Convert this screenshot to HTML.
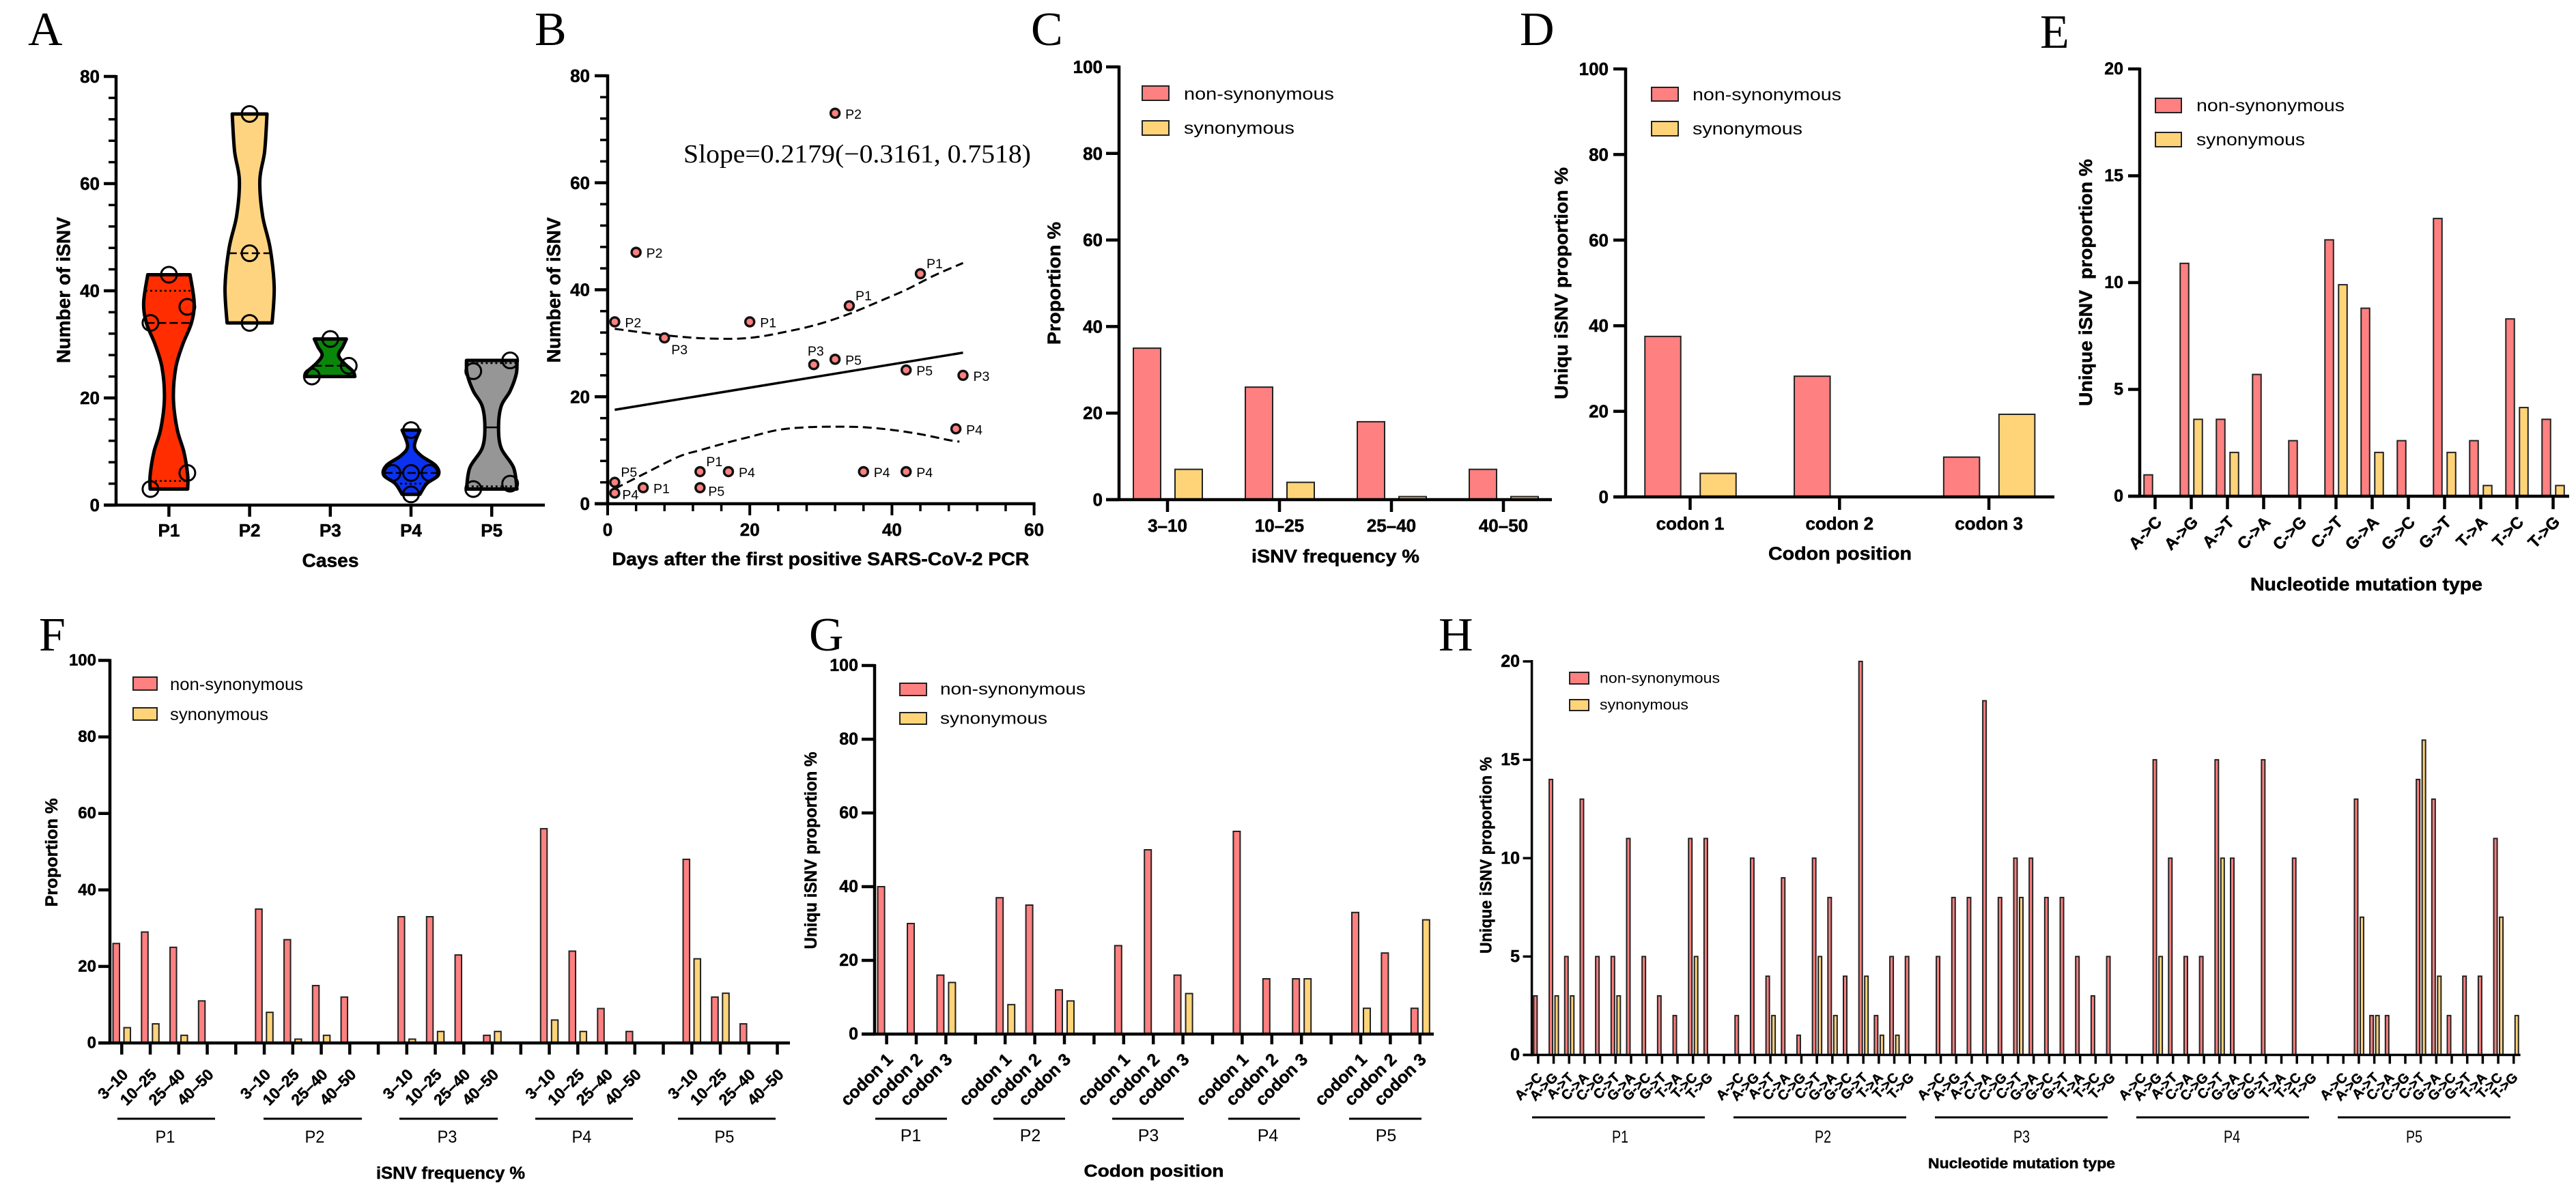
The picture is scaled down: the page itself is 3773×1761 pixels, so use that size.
<!DOCTYPE html>
<html lang="en">
<head>
<meta charset="utf-8">
<title>iSNV analysis panels</title>
<style>
html,body{margin:0;padding:0;background:#fff;}
svg{display:block;}
text{font-family:"Liberation Sans",Arial,sans-serif;fill:#000;}
text[font-weight=bold],.title{stroke:#000;stroke-width:.5px;}
.letter{font-family:"Liberation Serif",serif;font-size:70px;}
.title{font-weight:bold;dominant-baseline:central;text-anchor:middle;}
.leg{dominant-baseline:central;}
.grp{dominant-baseline:central;text-anchor:middle;font-size:25px;}
.gl{stroke:#000;stroke-width:3;}
.non{fill:#ff8080;stroke:#222;stroke-width:2;}
.syn{fill:#ffd479;stroke:#222;stroke-width:2;}
</style>
</head>
<body>
<svg id="fig" xmlns="http://www.w3.org/2000/svg" width="3773" height="1761" viewBox="0 0 3773 1761">
<rect x="0" y="0" width="3773" height="1761" fill="#fff"/>

<g id="panel-a">
  <text class="letter" x="41" y="66">A</text>
  <text class="title" font-size="28" x="93" y="425" transform="rotate(-90 93 425)" textLength="214" lengthAdjust="spacingAndGlyphs">Number of iSNV</text>
  <text class="title" font-size="28" x="484" y="821" textLength="83" lengthAdjust="spacingAndGlyphs">Cases</text>
</g>

<g id="panel-b">
  <text class="letter" x="783" y="66">B</text>
  <text class="title" font-size="28" x="811" y="425" transform="rotate(-90 811 425)" textLength="213" lengthAdjust="spacingAndGlyphs">Number of iSNV</text>
  <text class="title" font-size="27" x="1202" y="819" textLength="611" lengthAdjust="spacingAndGlyphs">Days after the first positive SARS-CoV-2 PCR</text>
  <text x="1001" y="238" font-size="38" textLength="509" lengthAdjust="spacingAndGlyphs" style="font-family:'Liberation Serif',serif">Slope=0.2179(−0.3161, 0.7518)</text>
</g>

<g id="panel-c">
  <text class="letter" x="1510" y="66">C</text>
  <text class="title" font-size="27" x="1544" y="415" transform="rotate(-90 1544 415)" textLength="180" lengthAdjust="spacingAndGlyphs">Proportion %</text>
  <text class="title" font-size="27" x="1956" y="815" textLength="246" lengthAdjust="spacingAndGlyphs">iSNV frequency %</text>
  <g>
    <rect class="non" x="1673" y="126" width="39" height="21"/>
    <rect class="syn" x="1673" y="177" width="39" height="21"/>
    <text class="leg" font-size="25" x="1734" y="138" textLength="220" lengthAdjust="spacingAndGlyphs">non-synonymous</text>
    <text class="leg" font-size="25" x="1734" y="188" textLength="162" lengthAdjust="spacingAndGlyphs">synonymous</text>
  </g>
</g>

<g id="panel-d">
  <text class="letter" x="2226" y="66">D</text>
  <text class="title" font-size="27" x="2287" y="415" transform="rotate(-90 2287 415)" textLength="340" lengthAdjust="spacingAndGlyphs">Uniqu iSNV proportion %</text>
  <text class="title" font-size="27" x="2695" y="811" textLength="210" lengthAdjust="spacingAndGlyphs">Codon position</text>
  <g>
    <rect class="non" x="2419" y="128" width="39" height="20"/>
    <rect class="syn" x="2419" y="178" width="39" height="21"/>
    <text class="leg" font-size="25" x="2479" y="139" textLength="218" lengthAdjust="spacingAndGlyphs">non-synonymous</text>
    <text class="leg" font-size="25" x="2479" y="189" textLength="161" lengthAdjust="spacingAndGlyphs">synonymous</text>
  </g>
</g>

<g id="panel-e">
  <text class="letter" x="2988" y="70">E</text>
  <text class="title" font-size="27" x="3055" y="414" transform="rotate(-90 3055 414)" textLength="362" lengthAdjust="spacingAndGlyphs" xml:space="preserve">Unique iSNV  proportion %</text>
  <text class="title" font-size="27" x="3466" y="856" textLength="340" lengthAdjust="spacingAndGlyphs">Nucleotide mutation type</text>
  <g>
    <rect class="non" x="3157" y="144" width="38" height="21"/>
    <rect class="syn" x="3157" y="194" width="38" height="21"/>
    <text class="leg" font-size="25" x="3217" y="155" textLength="217" lengthAdjust="spacingAndGlyphs">non-synonymous</text>
    <text class="leg" font-size="25" x="3217" y="205" textLength="159" lengthAdjust="spacingAndGlyphs">synonymous</text>
  </g>
</g>

<g id="panel-f">
  <text class="letter" x="57" y="953">F</text>
  <text class="title" font-size="25" x="76" y="1249" transform="rotate(-90 76 1249)" textLength="159" lengthAdjust="spacingAndGlyphs">Proportion %</text>
  <text class="title" font-size="25" x="660" y="1719" textLength="218" lengthAdjust="spacingAndGlyphs">iSNV frequency %</text>
  <g>
    <rect class="non" x="195" y="992" width="35" height="19"/>
    <rect class="syn" x="195" y="1037" width="35" height="18"/>
    <text class="leg" font-size="25" x="249" y="1003" textLength="195" lengthAdjust="spacingAndGlyphs">non-synonymous</text>
    <text class="leg" font-size="25" x="249" y="1047" textLength="144" lengthAdjust="spacingAndGlyphs">synonymous</text>
  </g>
  <g>
    <line class="gl" x1="172" x2="315" y1="1639" y2="1639"/>
    <line class="gl" x1="386" x2="530" y1="1639" y2="1639"/>
    <line class="gl" x1="585" x2="729" y1="1639" y2="1639"/>
    <line class="gl" x1="784" x2="927" y1="1639" y2="1639"/>
    <line class="gl" x1="993" x2="1136" y1="1639" y2="1639"/>
    <text class="grp" x="242" y="1666" textLength="29" lengthAdjust="spacingAndGlyphs">P1</text>
    <text class="grp" x="461" y="1666" textLength="29" lengthAdjust="spacingAndGlyphs">P2</text>
    <text class="grp" x="655" y="1666" textLength="29" lengthAdjust="spacingAndGlyphs">P3</text>
    <text class="grp" x="852" y="1666" textLength="29" lengthAdjust="spacingAndGlyphs">P4</text>
    <text class="grp" x="1061" y="1666" textLength="29" lengthAdjust="spacingAndGlyphs">P5</text>
  </g>
</g>

<g id="panel-g">
  <text class="letter" x="1185" y="953">G</text>
  <text class="title" font-size="25" x="1188" y="1246" transform="rotate(-90 1188 1246)" textLength="289" lengthAdjust="spacingAndGlyphs">Uniqu iSNV proportion %</text>
  <text class="title" font-size="25" x="1690" y="1716" textLength="205" lengthAdjust="spacingAndGlyphs">Codon position</text>
  <g>
    <rect class="non" x="1318" y="1001" width="39" height="18"/>
    <rect class="syn" x="1318" y="1044" width="39" height="17"/>
    <text class="leg" font-size="24" x="1377" y="1010" textLength="213" lengthAdjust="spacingAndGlyphs">non-synonymous</text>
    <text class="leg" font-size="24" x="1377" y="1053" textLength="157" lengthAdjust="spacingAndGlyphs">synonymous</text>
  </g>
  <g>
    <line class="gl" x1="1282" x2="1387" y1="1639" y2="1639"/>
    <line class="gl" x1="1455" x2="1560" y1="1639" y2="1639"/>
    <line class="gl" x1="1629" x2="1734" y1="1639" y2="1639"/>
    <line class="gl" x1="1799" x2="1904" y1="1639" y2="1639"/>
    <line class="gl" x1="1976" x2="2082" y1="1639" y2="1639"/>
    <text class="grp" x="1334" y="1664" font-size="26">P1</text>
    <text class="grp" x="1509" y="1664" font-size="26">P2</text>
    <text class="grp" x="1682" y="1664" font-size="26">P3</text>
    <text class="grp" x="1857" y="1664" font-size="26">P4</text>
    <text class="grp" x="2030" y="1664" font-size="26">P5</text>
  </g>
</g>

<g id="panel-h">
  <text class="letter" x="2107" y="953">H</text>
  <text class="title" font-size="24" x="2177" y="1253" transform="rotate(-90 2177 1253)" textLength="288" lengthAdjust="spacingAndGlyphs">Unique iSNV proportion %</text>
  <text class="title" font-size="21" x="2961" y="1705" textLength="274" lengthAdjust="spacingAndGlyphs">Nucleotide mutation type</text>
  <g>
    <rect class="non" x="2299" y="985" width="28" height="17"/>
    <rect class="syn" x="2299" y="1025" width="28" height="16"/>
    <text class="leg" font-size="21" x="2343" y="994" textLength="176" lengthAdjust="spacingAndGlyphs">non-synonymous</text>
    <text class="leg" font-size="21" x="2343" y="1033" textLength="130" lengthAdjust="spacingAndGlyphs">synonymous</text>
  </g>
  <g>
    <line class="gl" x1="2244" x2="2497" y1="1637" y2="1637"/>
    <line class="gl" x1="2539" x2="2792" y1="1637" y2="1637"/>
    <line class="gl" x1="2834" x2="3087" y1="1637" y2="1637"/>
    <line class="gl" x1="3129" x2="3382" y1="1637" y2="1637"/>
    <line class="gl" x1="3424" x2="3677" y1="1637" y2="1637"/>
    <text class="grp" x="2373" y="1666" textLength="24" lengthAdjust="spacingAndGlyphs">P1</text>
    <text class="grp" x="2670" y="1666" textLength="24" lengthAdjust="spacingAndGlyphs">P2</text>
    <text class="grp" x="2961" y="1666" textLength="24" lengthAdjust="spacingAndGlyphs">P3</text>
    <text class="grp" x="3269" y="1666" textLength="24" lengthAdjust="spacingAndGlyphs">P4</text>
    <text class="grp" x="3536" y="1666" textLength="24" lengthAdjust="spacingAndGlyphs">P5</text>
  </g>
</g>
</svg>

<script>
// ---------- Panel A data ----------
const violinCases = ['P1','P2','P3','P4','P5'];
const violinColors = ['#ff2d00','#ffd480','#0a860a','#0a32f0','#969696'];
const p1Points = [43,37,34,6,3];
const p2Points = [73,47,34];
const p3Points = [31,26,24];
const p4Points = [14,6,6,6,2];
const p5Points = [27,25,4,3];
const p1Swarm = [0,1,-1,1,-1];
const p2Swarm = [0,0,0];
const p3Swarm = [0,1,-1];
const p4Swarm = [0,-1,0,1,0];
const p5Swarm = [1,-1,1,-1];
const p1ProfileValues = [43,37.8,34,29.9,25.6,19.9,14.2,9.9,5.6,3];
const p1ProfileDensity = [31,37,33,20,10,6.6,12,22,27.5,27.5];
const p2ProfileValues = [73,66,60.7,54,48,40.7,34];
const p2ProfileDensity = [25.5,22,15,19,30,36,33];
const p3ProfileValues = [31,29.5,28,26.5,25,24];
const p3ProfileDensity = [23.5,18,12,20,33,36];
const p4ProfileValues = [14,11,9.2,7.4,5.6,4,2];
const p4ProfileDensity = [13,5,15,36,40,23,13];
const p5ProfileValues = [27,24.5,21.3,18.5,14.5,10.6,7,3];
const p5ProfileDensity = [37,36,27,14,10,14,32,37];
const violinMedian = [34,47,26,6,14.5];
const violinQ1 = [4.5,null,null,4,3.5];
const violinQ3 = [40,null,null,null,26.5];

// ---------- Panel B data ----------
const bDays = [1,4,32,8,29,50,20,34,44,5,13,32,42,1,13,1,17,36,42,49];
const bCounts = [34,47,73,31,26,24,34,37,43,3,6,27,25,4,3,2,6,6,6,14];
const bCases = ['P2','P2','P2','P3','P3','P3','P1','P1','P1','P1','P1','P5','P5','P5','P5','P4','P4','P4','P4','P4'];
const bPlacement = ['r','r','r','b','a','r','r','ar','ar','r','ar','r','r','ar','br','rc','r','r','r','r'];
const bSlope = 0.2179;
const bIntercept = 17.34;
const bFitDays = [1,50];
const bUpperDays = [1,8,14,20,26,30,34,38,42,46,50];
const bUpperValues = [32.7,31.5,30.9,31,32.4,33.7,35.5,37.7,40,42.7,45];
const bLowerDays = [1,5,10,13,17,20,24,28,32,36,40,44,48,49.5];
const bLowerValues = [2.8,5.5,8.8,10,11.5,12.5,13.8,14.3,14.4,14.3,13.8,13,11.9,11.6];

// ---------- Panels C, D, E data ----------
const freqBins = ['3–10','10–25','25–40','40–50'];
const cNon = [[35,26,18,7]];
const cSyn = [[7,4,0.7,0.7]];
const codons = ['codon 1','codon 2','codon 3'];
const dNon = [[37.5,28.2,9.3]];
const dSyn = [[5.5,0,19.3]];
const mutationTypes = ['A->C','A->G','A->T','C->A','C->G','C->T','G->A','G->C','G->T','T->A','T->C','T->G'];
const eNon = [[1,10.9,3.6,5.7,2.6,12,8.8,2.6,13,2.6,8.3,3.6]];
const eSyn = [[0,3.6,2.05,0,0,9.9,2.05,0,2.05,0.5,4.15,0.5]];

// ---------- Panel F data (one row per patient) ----------
const fNon = [[26,29,25,11],[35,27,15,12],[33,33,23,2],[56,24,9,3],[48,12,5,0]];
const fSyn = [[4,5,2,0],[8,1,2,0],[1,3,0,3],[6,3,0,0],[22,13,0,0]];

// ---------- Panel G data ----------
const gNon = [[40,30,16],[37,35,12],[24,50,16],[55,15,15],[33,22,7]];
const gSyn = [[0,0,14],[8,0,9],[0,0,11],[0,0,15],[7,0,31]];

// ---------- Panel H data ----------
const hNon = [
  [3,14,5,13,5,5,11,5,3,2,11,11],
  [2,10,4,9,1,10,8,4,20,2,5,5],
  [5,8,8,18,8,10,10,8,8,5,3,5],
  [0,15,10,5,5,15,10,0,15,0,10,0],
  [0,13,2,2,0,14,13,2,4,4,11,0]
];
const hSyn = [
  [0,3,3,0,0,3,0,0,0,0,5,0],
  [0,0,2,0,0,5,2,0,4,1,1,0],
  [0,0,0,0,0,8,0,0,0,0,0,0],
  [0,5,0,0,0,10,0,0,0,0,0,0],
  [0,7,2,0,0,16,4,0,0,0,7,2]
];

const yTicks100 = [0,20,40,60,80,100];
const yTicks80 = [0,20,40,60,80];
const yTicks20 = [0,5,10,15,20];
const bXTicks = [0,20,40,60];

// ---------- helpers ----------
const NS = 'http://www.w3.org/2000/svg';
function mk(tag, attrs, parent){
  const e = document.createElementNS(NS, tag);
  for (const k in attrs) e.setAttribute(k, attrs[k]);
  parent.appendChild(e);
  return e;
}
function hLine(parent, x1, x2, y, w){
  return mk('line', {x1:x1, x2:x2, y1:y, y2:y, stroke:'#000', 'stroke-width':w}, parent);
}
function vLine(parent, x, y1, y2, w){
  return mk('line', {x1:x, x2:x, y1:y1, y2:y2, stroke:'#000', 'stroke-width':w}, parent);
}
function smooth(pts){
  let d = 'M' + pts[0][0] + ' ' + pts[0][1];
  for (let i = 0; i < pts.length - 1; i++){
    const p0 = pts[Math.max(i-1,0)], p1 = pts[i], p2 = pts[i+1], p3 = pts[Math.min(i+2,pts.length-1)];
    const c1 = [p1[0]+(p2[0]-p0[0])/6, p1[1]+(p2[1]-p0[1])/6];
    const c2 = [p2[0]-(p3[0]-p1[0])/6, p2[1]-(p3[1]-p1[1])/6];
    d += 'C'+c1[0]+' '+c1[1]+' '+c2[0]+' '+c2[1]+' '+p2[0]+' '+p2[1];
  }
  return d;
}

function drawYAxis(p, o){
  const scale = v => o.y0 - v / o.max * (o.y0 - o.yTop);
  const g = mk('g', {}, p);
  
  
  const axis = vLine(g, o.x, o.yTop - 2, o.y0 + 2, o.w);
  
  
  if (o.minor){
    for (let v = 0; v <= o.max; v += o.minor){
      const m = hLine(g, o.x - o.minorLen, o.x, scale(v), 3.5);
      
      
    }
  }
  o.ticks.forEach(v => {
    const t = hLine(g, o.x - o.len, o.x, scale(v), o.w);
    
    
    const l = mk('text', {x:o.labelX, y:scale(v), 'font-size':o.fs, 'font-weight':'bold', 'text-anchor':'end', 'dominant-baseline':'central'}, g);
    l.textContent = v;
    
    
  });
  return scale;
}

function drawBars(panelId, c){
  const p = document.getElementById(panelId);
  const yS = drawYAxis(p, {x:c.axisX, y0:c.y0, yTop:c.yTop, max:c.max, ticks:c.ticks, len:c.tickLeft, labelX:c.labelX, fs:c.fs, w:c.axisW});
  const n = c.cats.length;
  const xS = slot => c.x0 + slot * c.step;
  const barsG = mk('g', {}, p);
  
  
  c.non.forEach((row, g) => {
    row.forEach((v, i) => {
      const cx = xS(g * (n + 1) + i);
      if (v > 0){
        const r = mk('rect', {class:'non', x:cx + c.nonOff - c.barW/2, y:yS(v), width:c.barW, height:c.y0 - yS(v), style:'stroke-width:'+c.barStroke}, barsG);
        
        
      }
      const s = c.syn[g][i];
      if (s > 0){
        const r2 = mk('rect', {class:'syn', x:cx + c.synOff - c.barW/2, y:yS(s), width:c.barW, height:c.y0 - yS(s), style:'stroke-width:'+c.barStroke}, barsG);
        
        
      }
    });
  });
  const xAxis = hLine(p, c.axisX - c.tickLeft, c.xEnd, c.y0, c.axisW);
  
  
  const slots = c.non.length * (n + 1) - 1;
  for (let s = 0; s < slots; s++){
    const t = vLine(p, xS(s), c.y0, c.y0 + c.tickLen, c.tickW);
    
    
    if ((s + 1) % (n + 1) === 0) continue;
    const name = c.cats[s % (n + 1)];
    if (c.rotate){
      const lx = xS(s) + c.lx, ly = c.y0 + c.ly;
      const l = mk('text', {x:lx, y:ly, 'font-size':c.catFs, 'font-weight':'bold', 'text-anchor':'end', 'dominant-baseline':'central', transform:'rotate('+c.rotate+' '+lx+' '+ly+')'}, p);
      l.textContent = name;
      
      
    } else {
      const l = mk('text', {x:xS(s), y:c.labelY, 'font-size':c.catFs, 'font-weight':'bold', 'text-anchor':'middle', 'dominant-baseline':'central'}, p);
      l.textContent = name;
      
      
    }
  }
}

// ---------- Panel A ----------
(function(){
  const p = document.getElementById('panel-a');
  const yS = drawYAxis(p, {x:170, y0:740, yTop:112, max:80, ticks:yTicks80, minor:4, len:18, minorLen:11, labelX:146, fs:26, w:4.5});
  const xS = i => 247.4 + i * 118.2;
  const swarmPx = 27;
  const pts = [p1Points,p2Points,p3Points,p4Points,p5Points];
  const swarm = [p1Swarm,p2Swarm,p3Swarm,p4Swarm,p5Swarm];
  const vals = [p1ProfileValues,p2ProfileValues,p3ProfileValues,p4ProfileValues,p5ProfileValues];
  const dens = [p1ProfileDensity,p2ProfileDensity,p3ProfileDensity,p4ProfileDensity,p5ProfileDensity];
  const halfAt = (i, v) => {
    const V = vals[i], D = dens[i];
    for (let k = 0; k < V.length - 1; k++){
      if (v <= V[k] && v >= V[k+1]) return D[k] + (D[k+1]-D[k]) * (V[k]-v) / (V[k]-V[k+1]);
    }
    return D[D.length-1];
  };
  violinCases.forEach((name, i) => {
    const cx = xS(i);
    const g = mk('g', {}, p);
    
    
    const right = vals[i].map((v, k) => [cx + dens[i][k], yS(v)]);
    const left = vals[i].map((v, k) => [cx - dens[i][k], yS(v)]).reverse();
    const d = smooth(right) + 'L' + left[0][0] + ' ' + left[0][1] + smooth(left).replace(/^M[^C]*/, '') + 'Z';
    const body = mk('path', {d:d, fill:violinColors[i], stroke:'#000', 'stroke-width':5, 'stroke-linejoin':'round'}, g);
    
    
    const med = mk('line', {x1:cx - halfAt(i, violinMedian[i]), x2:cx + halfAt(i, violinMedian[i]), y1:yS(violinMedian[i]), y2:yS(violinMedian[i]), stroke:'#000', 'stroke-width':2.5, 'stroke-dasharray': i === 4 ? 'none' : '12 5'}, g);
    
    
    [violinQ1[i], violinQ3[i]].forEach(q => {
      if (q === null) return;
      const ql = mk('line', {x1:cx - halfAt(i, q), x2:cx + halfAt(i, q), y1:yS(q), y2:yS(q), stroke:'#000', 'stroke-width':2.5, 'stroke-dasharray':'3 4'}, g);
      
      
    });
    pts[i].forEach((v, k) => {
      const c = mk('circle', {cx:cx + swarm[i][k] * swarmPx, cy:yS(v), r:11.5, fill:'none', stroke:'#000', 'stroke-width':3}, g);
      
      
    });
    const t = vLine(p, cx, 740, 757, 4.5);
    
    
    const l = mk('text', {x:cx, y:777, 'font-size':26, 'font-weight':'bold', 'text-anchor':'middle', 'dominant-baseline':'central'}, p);
    l.textContent = name;
    
    
  });
  const ax = hLine(p, 152, 798, 740, 4.5);
  
  
})();

// ---------- Panel B ----------
(function(){
  const p = document.getElementById('panel-b');
  const yS = drawYAxis(p, {x:890, y0:738, yTop:111, max:80, ticks:yTicks80, minor:4, len:19, minorLen:11, labelX:864, fs:26, w:4.5});
  const xS = v => 890 + v * 10.41;
  const ax = hLine(p, 871, xS(60) + 2, 738, 4.5);
  
  
  for (let v = 0; v <= 60; v += 4){
    const m = vLine(p, xS(v), 738, 749, 3.5);
    
    
  }
  bXTicks.forEach(v => {
    const t = vLine(p, xS(v), 738, 755, 4);
    
    
    const l = mk('text', {x:xS(v), y:776, 'font-size':26, 'font-weight':'bold', 'text-anchor':'middle', 'dominant-baseline':'central'}, p);
    l.textContent = v;
    
    
  });
  const fit = mk('path', {d:'M' + bFitDays.map(x => xS(x) + ' ' + yS(bIntercept + bSlope * x)).join('L'), fill:'none', stroke:'#000', 'stroke-width':3.5}, p);
  
  
  const up = mk('path', {d:smooth(bUpperDays.map((x,i) => [xS(x), yS(bUpperValues[i])])), fill:'none', stroke:'#000', 'stroke-width':3, 'stroke-dasharray':'13 7'}, p);
  
  
  const lo = mk('path', {d:smooth(bLowerDays.map((x,i) => [xS(x), yS(bLowerValues[i])])), fill:'none', stroke:'#000', 'stroke-width':3, 'stroke-dasharray':'13 7'}, p);
  
  
  const offsets = {r:[15,2], rc:[11,3], b:[10,18], a:[-9,-19], ar:[9,-14], br:[12,6]};
  bDays.forEach((d, i) => {
    const c = mk('circle', {cx:xS(d), cy:yS(bCounts[i]), r:6.5, fill:'#ff8080', stroke:'#111', 'stroke-width':3.5}, p);
    
    
  });
  bDays.forEach((d, i) => {
    const o = offsets[bPlacement[i]];
    const l = mk('text', {x:xS(d) + o[0], y:yS(bCounts[i]) + o[1], 'font-size':19.5, 'dominant-baseline':'central'}, p);
    l.textContent = bCases[i];
    
    
  });
})();

// ---------- Bar panels ----------
drawBars('panel-c', {cats:freqBins, non:cNon, syn:cSyn, axisX:1639, y0:732, yTop:98, max:100, ticks:yTicks100, tickLeft:19, labelX:1615, fs:26, axisW:4.5, x0:1710, step:164, nonOff:-30, synOff:31, barW:40, barStroke:2, xEnd:2273, tickLen:18, tickW:4.5, labelY:770, catFs:26});
drawBars('panel-d', {cats:codons, non:dNon, syn:dSyn, axisX:2381, y0:728, yTop:101, max:100, ticks:yTicks100, tickLeft:18, labelX:2356, fs:26, axisW:4.5, x0:2475.5, step:218.8, nonOff:-40, synOff:41, barW:52.5, barStroke:2, xEnd:3009, tickLen:19, tickW:4.5, labelY:767, catFs:26});
drawBars('panel-e', {cats:mutationTypes, non:eNon, syn:eSyn, axisX:3134, y0:727, yTop:101, max:20, ticks:yTicks20, tickLeft:17, labelX:3110, fs:25, axisW:4.5, x0:3156.5, step:53, nonOff:-10, synOff:10, barW:12.5, barStroke:2, xEnd:3763, tickLen:19, tickW:4.5, rotate:-45, lx:6, ly:34, catFs:24});
drawBars('panel-f', {cats:freqBins, non:fNon, syn:fSyn, axisX:161, y0:1528, yTop:967.5, max:100, ticks:yTicks100, tickLeft:17, labelX:141, fs:24, axisW:4.5, x0:178.3, step:41.75, nonOff:-8, synOff:8, barW:9.5, barStroke:2, xEnd:1157, tickLen:17, tickW:4.5, rotate:-45, lx:5, ly:42, catFs:23});
drawBars('panel-g', {cats:codons, non:gNon, syn:gSyn, axisX:1281, y0:1515, yTop:975, max:100, ticks:yTicks100, tickLeft:19, labelX:1257, fs:25, axisW:4.5, x0:1298.6, step:43.4, nonOff:-8, synOff:9, barW:10, barStroke:2, xEnd:2100, tickLen:15, tickW:4.5, rotate:-45, lx:5, ly:33, catFs:25});
drawBars('panel-h', {cats:mutationTypes, non:hNon, syn:hSyn, axisX:2243.6, y0:1545.5, yTop:969, max:20, ticks:yTicks20, tickLeft:13, labelX:2226, fs:25, axisW:3.5, x0:2252.9, step:22.68, nonOff:-4, synOff:4.5, barW:5, barStroke:2, xEnd:3691.6, tickLen:13, tickW:3.5, rotate:-45, lx:3, ly:30, catFs:20});
</script>
</body>
</html>
